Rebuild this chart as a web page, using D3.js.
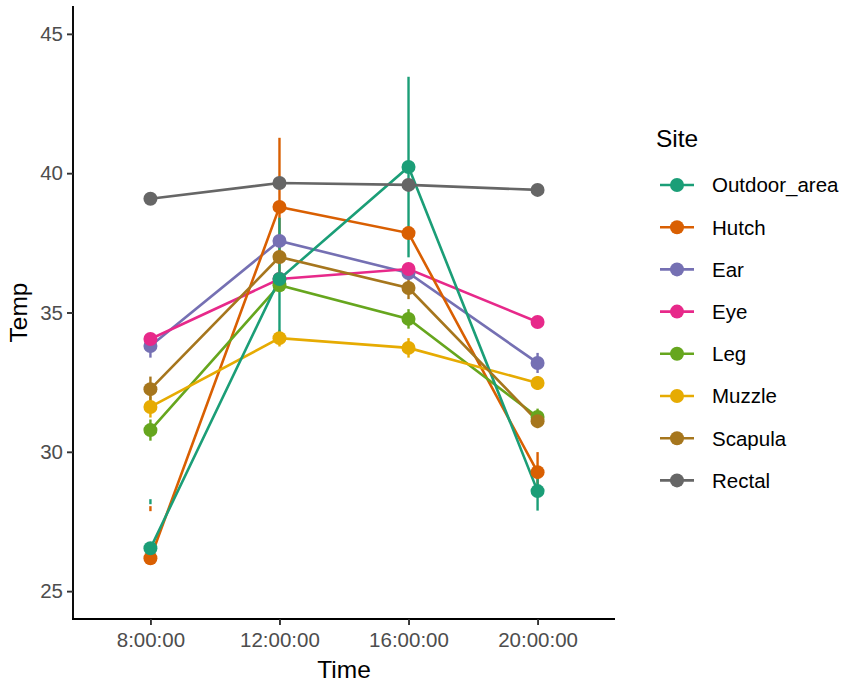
<!DOCTYPE html>
<html>
<head>
<meta charset="utf-8">
<script src="https://cdn.jsdelivr.net/npm/d3@7"></script>
<style>
  body { margin: 0; background: #fff; }
  svg { font-family: "Liberation Sans", Arial, sans-serif; }
</style>
</head>
<body>
<div id="chart"></div>
<script>
const width = 851;
const height = 685;

// data
const times = ["8:00:00", "12:00:00", "16:00:00", "20:00:00"];
const sites = ["Outdoor_area", "Hutch", "Ear", "Eye", "Leg", "Muzzle", "Scapula", "Rectal"];
const colors = ["#1B9E77", "#D95F02", "#7570B3", "#E7298A", "#66A61E", "#E6AB02", "#A6761D", "#666666"];
const yTicks = [25, 30, 35, 40, 45];

const outdoorMean = [26.54, 36.2, 40.22, 28.59];
const outdoorLo   = [28.12, 34.0, 36.98, 27.89];
const outdoorHi   = [28.30, 38.4, 43.46, 29.29];

const hutchMean = [26.18, 38.79, 37.85, 29.27];
const hutchLo   = [27.87, 36.31, 37.65, 28.55];
const hutchHi   = [28.05, 41.27, 38.05, 29.99];

const earMean = [33.80, 37.57, 36.42, 33.19];
const earSe   = [0.42, 0.25, 0.25, 0.36];
const eyeMean = [34.05, 36.2, 36.56, 34.66];
const eyeSe   = [0.2, 0.2, 0.2, 0.2];
const legMean = [30.78, 35.98, 34.77, 31.25];
const legSe   = [0.38, 0.25, 0.35, 0.3];
const muzzleMean = [31.61, 34.08, 33.73, 32.47];
const muzzleSe   = [0.38, 0.3, 0.35, 0.25];
const scapulaMean = [32.25, 36.99, 35.88, 31.10];
const scapulaSe   = [0.45, 0.25, 0.4, 0.25];
const rectalMean = [39.08, 39.65, 39.58, 39.40];
const rectalSe   = [0.1, 0.1, 0.1, 0.1];

const withSe = (m, s) => ({mean: m, lo: m.map((v, i) => v - s[i]), hi: m.map((v, i) => v + s[i])});
const series = [
  {mean: outdoorMean, lo: outdoorLo, hi: outdoorHi},
  {mean: hutchMean, lo: hutchLo, hi: hutchHi},
  withSe(earMean, earSe),
  withSe(eyeMean, eyeSe),
  withSe(legMean, legSe),
  withSe(muzzleMean, muzzleSe),
  withSe(scapulaMean, scapulaSe),
  withSe(rectalMean, rectalSe)
].map((s, i) => ({...s, site: sites[i], color: colors[i]}));

// groups get drawn in alphabetical order like the original
const drawOrder = series.slice().sort((a, b) => d3.ascending(a.site, b.site));

const panel = {left: 73, right: 615, top: 6, bottom: 619};

const svg = d3.select("#chart")
  .append("svg")
  .attr("width", width)
  .attr("height", height);

const x = d3.scalePoint()
  .domain(times)
  .range([panel.left, panel.right])
  .padding(0.6);

const y = d3.scaleLinear()
  .domain([24, 46])
  .range([panel.bottom, panel.top]);

// axes
const yAxis = svg.append("g")
  .attr("transform", `translate(${panel.left},0)`)
  .call(d3.axisLeft(y).tickValues(yTicks).tickSize(6).tickPadding(4));
const xAxis = svg.append("g")
  .attr("transform", `translate(0,${panel.bottom})`)
  .call(d3.axisBottom(x).tickSize(6).tickPadding(7));

[yAxis, xAxis].forEach(g => {
  g.select(".domain").attr("stroke", "#000").attr("stroke-width", 1.9)
  g.selectAll(".tick line").attr("stroke", "#333").attr("stroke-width", 1.9)
  g.selectAll(".tick text").attr("fill", "#4d4d4d").style("font-size", "20.5px")
});
yAxis.select(".domain").attr("d", `M0,${panel.bottom}V${panel.top}`);
xAxis.select(".domain").attr("d", `M${panel.left - 1},0H${panel.right}`);

svg.append("text")
  .attr("x", (panel.left + panel.right) / 2)
  .attr("y", 678)
  .attr("text-anchor", "middle")
  .style("font-size", "24.5px")
  .text("Time");

svg.append("text")
  .attr("transform", `translate(27,${(panel.top + panel.bottom) / 2}) rotate(-90)`)
  .attr("text-anchor", "middle")
  .style("font-size", "24.5px")
  .text("Temp");

// error bars
const bars = svg.append("g");
drawOrder.forEach(s => {
  bars.selectAll(null)
    .data(times)
    .join("line")
    .attr("x1", t => x(t))
    .attr("x2", t => x(t))
    .attr("y1", (t, i) => y(s.lo[i]))
    .attr("y2", (t, i) => y(s.hi[i]))
    .attr("stroke", s.color)
    .attr("stroke-width", 2.4)
});

// lines
const line = d3.line()
  .x((d, i) => x(times[i]))
  .y(d => y(d));
drawOrder.forEach(s => {
  svg.append("path")
    .datum(s.mean)
    .attr("fill", "none")
    .attr("stroke", s.color)
    .attr("stroke-width", 2.6)
    .attr("d", line)
});

// points
drawOrder.forEach(s => {
  svg.append("g").selectAll("circle")
    .data(s.mean)
    .join("circle")
    .attr("cx", (d, i) => x(times[i]))
    .attr("cy", d => y(d))
    .attr("r", 7)
    .attr("fill", s.color)
});

// legend
const legend = svg.append("g").attr("transform", "translate(645,0)");
legend.append("text")
  .attr("x", 11)
  .attr("y", 147)
  .style("font-size", "24.5px")
  .text("Site");

const item = legend.selectAll(".item")
  .data(series)
  .join("g")
  .attr("class", "item")
  .attr("transform", (d, i) => `translate(0,${185 + i * 42.2})`);
item.append("line")
  .attr("x1", 15).attr("x2", 49)
  .attr("stroke", d => d.color)
  .attr("stroke-width", 2.6);
item.append("circle")
  .attr("cx", 32)
  .attr("r", 7)
  .attr("fill", d => d.color);
item.append("text")
  .attr("x", 67)
  .attr("dy", "0.36em")
  .style("font-size", "20.5px")
  .text(d => d.site);
</script>
</body>
</html>
